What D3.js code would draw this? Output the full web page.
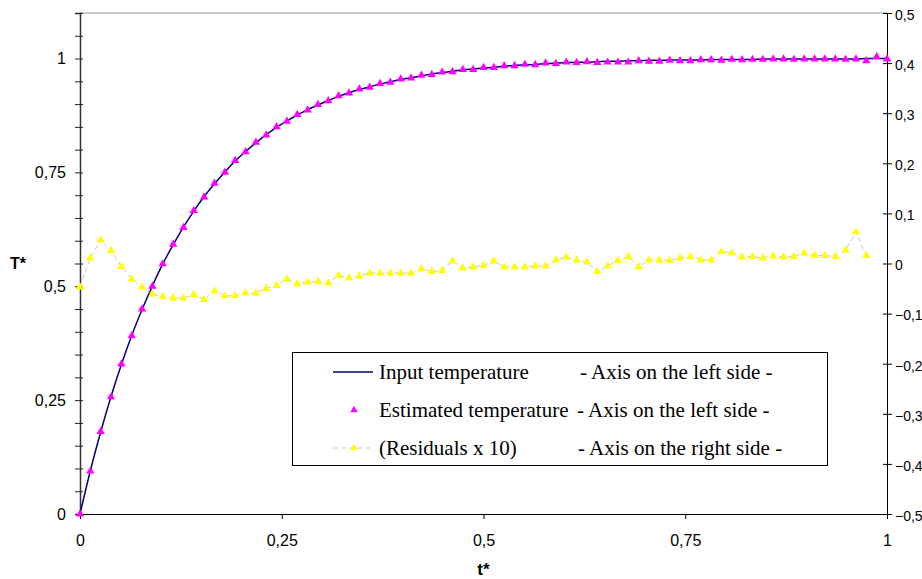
<!DOCTYPE html>
<html>
<head>
<meta charset="utf-8">
<script src="https://cdn.jsdelivr.net/npm/d3@7"></script>
<style>
  body { margin: 0; background: #fff; }
  .tick text { font-family: "Liberation Sans", Arial, sans-serif; }
</style>
</head>
<body>
<div class="container"></div>
<script>
// t* sampling grid: 79 points, 0 .. 1
let tStar = d3.range(79).map((i) => i / 78);

let inputTemp = [
  0, 0.095, 0.180, 0.258, 0.328, 0.392, 0.449, 0.501, 0.549, 0.591,
  0.630, 0.665, 0.697, 0.725, 0.751, 0.775, 0.796, 0.815, 0.833, 0.849,
  0.863, 0.876, 0.888, 0.898, 0.908, 0.917, 0.925, 0.932, 0.938, 0.944,
  0.949, 0.954, 0.958, 0.962, 0.966, 0.969, 0.972, 0.975, 0.977, 0.979,
  0.981, 0.983, 0.985, 0.986, 0.987, 0.989, 0.990, 0.991, 0.992, 0.992,
  0.993, 0.994, 0.994, 0.995, 0.995, 0.996, 0.996, 0.997, 0.997, 0.997,
  0.997, 0.998, 0.998, 0.998, 0.998, 0.998, 0.999, 0.999, 0.999, 0.999,
  0.999, 0.999, 0.999, 0.999, 0.999, 0.999, 1.000, 1.000, 1.000
];

let estimatedTemp = [
  0, 0.094, 0.181, 0.257, 0.329, 0.391, 0.450, 0.500, 0.549, 0.592,
  0.629, 0.666, 0.696, 0.726, 0.750, 0.776, 0.795, 0.816, 0.832, 0.850,
  0.862, 0.877, 0.887, 0.899, 0.907, 0.918, 0.924, 0.933, 0.937, 0.945,
  0.948, 0.955, 0.957, 0.963, 0.965, 0.970, 0.971, 0.976, 0.976, 0.980,
  0.980, 0.984, 0.984, 0.987, 0.986, 0.990, 0.989, 0.992, 0.991, 0.993,
  0.991, 0.992, 0.992, 0.992, 0.995, 0.994, 0.994, 0.996, 0.995, 0.995,
  0.997, 0.997, 0.996, 0.998, 0.997, 0.998, 0.998, 0.999, 0.999, 0.998,
  0.999, 0.999, 0.999, 0.999, 0.998, 0.999, 0.995, 1.004, 0.999
];

// residuals x 10, read on the right axis
let residuals = [
  -0.047, 0.011, 0.047, 0.026, -0.006, -0.031, -0.047, -0.061, -0.066, -0.069,
  -0.069, -0.062, -0.072, -0.055, -0.065, -0.064, -0.059, -0.059, -0.050, -0.044,
  -0.031, -0.041, -0.037, -0.036, -0.039, -0.024, -0.029, -0.025, -0.019, -0.019,
  -0.019, -0.019, -0.019, -0.011, -0.016, -0.014, 0.005, -0.009, -0.007, -0.004,
  0.005, -0.007, -0.007, -0.007, -0.005, -0.005, 0.007, 0.013, 0.007, 0.003,
  -0.016, -0.005, 0.006, 0.014, -0.007, 0.007, 0.007, 0.006, 0.011, 0.014,
  0.007, 0.007, 0.024, 0.021, 0.013, 0.014, 0.011, 0.015, 0.013, 0.014,
  0.021, 0.016, 0.016, 0.014, 0.027, 0.063, 0.016
];

let xTicks = [0, 0.25, 0.5, 0.75, 1];
let leftTicks = [0, 0.25, 0.5, 0.75, 1];
let leftMinor = d3.range(0, 1.1001, 0.05);
let rightTicks = d3.range(-0.5, 0.5001, 0.1);

let legendRows = [
  ["Input temperature", "- Axis on the left side -"],
  ["Estimated temperature", "- Axis on the left side -"],
  ["(Residuals x 10)", "- Axis on the right side -"]
];

let W = 922, H = 579;
let margin = {top: 13, right: 35, bottom: 65, left: 80};

let x = d3.scaleLinear().domain([0, 1]).range([margin.left, W - margin.right]);
let yL = d3.scaleLinear().domain([0, 1.1]).range([H - margin.bottom, margin.top]);
let yR = d3.scaleLinear().domain([-0.5, 0.5]).range([H - margin.bottom, margin.top]);

let comma = (d) => String(+d.toFixed(2)).replace(".", ",");

let svg = d3.select(".container").append("svg")
    .attr("width", W)
    .attr("height", H);

// top frame line
svg.append("line")
  .attr("x1", x(0)).attr("x2", x(1))
  .attr("y1", yL(1.1)).attr("y2", yL(1.1))
  .attr("stroke", "#999").attr("stroke-width", 1);

// left axis
let gL = svg.append("g")
  .attr("transform", "translate(" + x(0) + ",0)")
  .call(d3.axisLeft(yL).tickValues(leftMinor).tickFormat("").tickSize(5));
gL.selectAll(".tick line").attr("x1", 3).attr("stroke", "#222");
gL.select(".domain").attr("stroke", "#333").attr("stroke-width", 1.5);

let gL2 = svg.append("g")
  .attr("transform", "translate(" + x(0) + ",0)")
  .call(d3.axisLeft(yL).tickValues(leftTicks).tickFormat(comma).tickSize(0).tickPadding(14));
gL2.select(".domain").remove();
gL2.selectAll("text").style("font-size", "16px").attr("fill", "#000");

// right axis
let gR = svg.append("g")
  .attr("transform", "translate(" + x(1) + ",0)")
  .call(d3.axisRight(yR).tickValues(rightTicks)
    .tickFormat((d) => Math.abs(d) < 1e-9 ? "0" : d3.format(".1f")(d).replace(".", ","))
    .tickSize(5).tickPadding(3));
gR.selectAll(".tick line").attr("x1", -4).attr("stroke", "#000");
gR.select(".domain").attr("stroke", "#000");
gR.selectAll("text").style("font-size", "14px").attr("dy", "0.45em").attr("fill", "#000");

// bottom axis
let gX = svg.append("g")
  .attr("transform", "translate(0," + yL(0) + ")")
  .call(d3.axisBottom(x).tickValues(xTicks).tickFormat(comma).tickSize(5).tickPadding(16));
gX.select(".domain").attr("stroke", "#000");
gX.selectAll(".tick line").attr("stroke", "#000");
gX.selectAll("text").style("font-size", "16px").attr("fill", "#000");

// axis titles
svg.append("text")
  .text("T*")
  .attr("x", 10).attr("y", 269)
  .style("font-family", "Liberation Sans, Arial, sans-serif")
  .style("font-size", "16px").style("font-weight", "bold");
svg.append("text")
  .text("t*")
  .attr("text-anchor", "middle")
  .attr("x", x(0.5)).attr("y", 575)
  .style("font-family", "Liberation Sans, Arial, sans-serif")
  .style("font-size", "17px").style("font-weight", "bold");

let tri = d3.symbol().type(d3.symbolTriangle).size(30);

// input temperature line
svg.append("path")
  .datum(tStar.map((t, i) => [t, inputTemp[i]]))
  .attr("fill", "none")
  .attr("stroke", "#000080")
  .attr("stroke-width", 1.5)
  .attr("d", d3.line().x((d) => x(d[0])).y((d) => yL(d[1])).curve(d3.curveMonotoneX));

// estimated temperature markers
svg.append("g").selectAll("path")
  .data(tStar.map((t, i) => [t, estimatedTemp[i]]))
  .enter().append("path")
  .attr("d", tri)
  .attr("transform", (d) => "translate(" + x(d[0]) + "," + yL(d[1]) + ")")
  .attr("fill", "#ff00ff");

// residuals
let resData = residuals.map((r, i) => [tStar[i], r]);
svg.append("path")
  .datum(resData)
  .attr("fill", "none")
  .attr("stroke", "#c8c8c8")
  .attr("stroke-width", 1)
  .attr("stroke-dasharray", "5,3")
  .attr("d", d3.line().x((d) => x(d[0])).y((d) => yR(d[1])));
svg.append("g").selectAll("path")
  .data(resData)
  .enter().append("path")
  .attr("d", tri)
  .attr("transform", (d) => "translate(" + x(d[0]) + "," + yR(d[1]) + ")")
  .attr("fill", "#ffff00");

// legend
let lg = svg.append("g");
lg.append("rect")
  .attr("x", 292.5).attr("y", 352.5)
  .attr("width", 535).attr("height", 113)
  .attr("fill", "#fff").attr("stroke", "#000").attr("stroke-width", 1);

let rowY = [372, 410, 448];
lg.append("line")
  .attr("x1", 333).attr("x2", 373).attr("y1", rowY[0]).attr("y2", rowY[0])
  .attr("stroke", "#000080").attr("stroke-width", 1.5);
lg.append("path")
  .attr("d", d3.symbol().type(d3.symbolTriangle).size(24))
  .attr("transform", "translate(354," + rowY[1] + ")")
  .attr("fill", "#ff00ff");
lg.append("line")
  .attr("x1", 333).attr("x2", 373).attr("y1", rowY[2]).attr("y2", rowY[2])
  .attr("stroke", "#c8c8c8").attr("stroke-dasharray", "5,3");
lg.append("path")
  .attr("d", d3.symbol().type(d3.symbolTriangle).size(24))
  .attr("transform", "translate(354," + rowY[2] + ")")
  .attr("fill", "#ffff00");

legendRows.forEach((r, i) => {
  lg.append("text")
    .text(r[0])
    .attr("x", 379).attr("y", rowY[i] + 7)
    .style("font-family", "Liberation Serif, 'Times New Roman', serif")
    .style("font-size", "21px");
  lg.append("text")
    .text(r[1])
    .attr("x", [580, 577, 578][i]).attr("y", rowY[i] + 7)
    .style("font-family", "Liberation Serif, 'Times New Roman', serif")
    .style("font-size", "21px");
});
</script>
</body>
</html>
